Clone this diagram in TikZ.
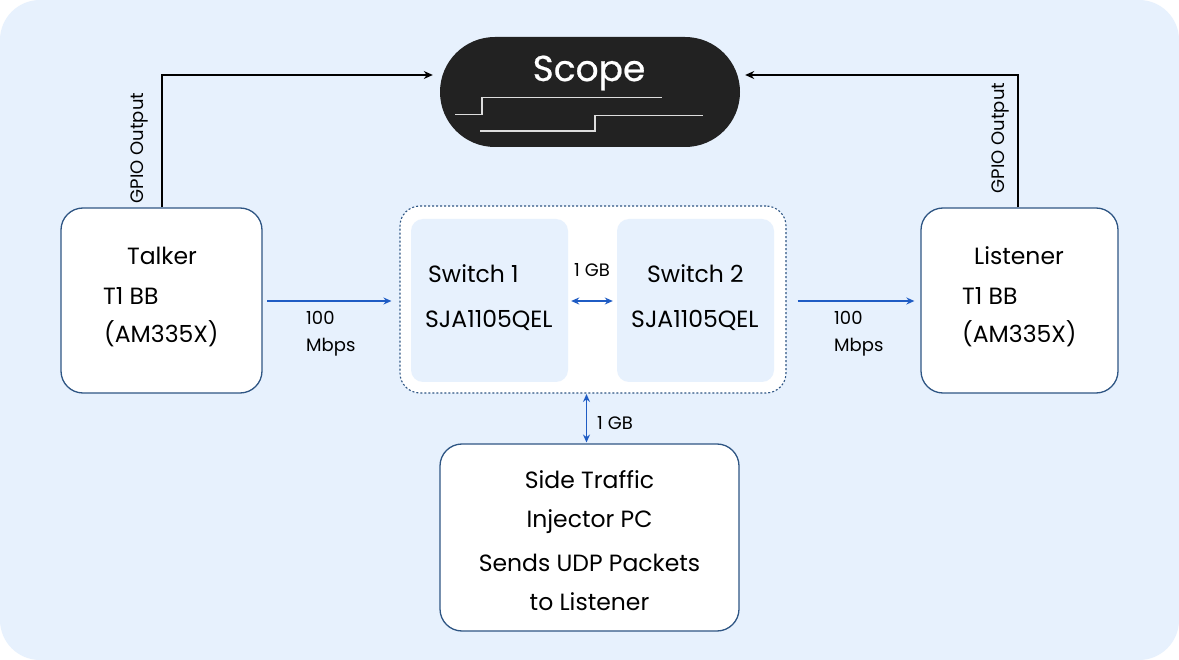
\documentclass[tikz,border=0pt]{standalone}
\usepackage{fontspec}
\setmainfont{Poppins}
\usetikzlibrary{arrows.meta}
\definecolor{bgblue}{HTML}{E7F1FD}
\definecolor{boxedge}{HTML}{2F5684}
\definecolor{arrowblue}{HTML}{1F5CC4}
\definecolor{scopefill}{HTML}{222222}
\definecolor{wave}{HTML}{DDDDDD}
\tikzset{
  devbox/.style={draw=boxedge, line width=1.3pt, fill=white, rounded corners=22pt, inner sep=0pt},
  swbox/.style={fill=bgblue, rounded corners=12pt, inner sep=0pt},
  bigtxt/.style={font=\fontsize{23.5}{28}\selectfont, inner sep=0pt, anchor=base},
  smalltxt/.style={font=\fontsize{18}{21}\selectfont, inner sep=0pt},
  gpio/.style={draw=black, line width=1.3pt, -{Stealth[length=9pt,width=8pt]}},
  blink/.style={draw=arrowblue, line width=1.3pt, -{Stealth[length=8pt,width=7pt]}},
  bilink/.style={draw=arrowblue, line width=1.3pt, {Stealth[length=8pt,width=7pt]}-{Stealth[length=8pt,width=7pt]}},
}
\begin{document}
\begin{tikzpicture}[x=1pt,y=-1pt]
\useasboundingbox (0,0) rectangle (1179,660);
\fill[white] (0,0) rectangle (1179,660);
\fill[bgblue, rounded corners=40pt] (0,0) rectangle (1179,660);

% Scope
\node[fill=scopefill, rounded corners=54.9pt, minimum width=300pt, minimum height=110pt, inner sep=0pt] (scope) at (590,92) {};
\node[font=\fontsize{36}{40}\selectfont, text=white, inner sep=0pt, anchor=base] (scopetxt) at (589,81) {\addfontfeatures{FakeBold=0.6}Scope};
\draw[wave, line width=1.4pt] (455,114.5) -- (482,114.5) -- (482,97.5) -- (662,97.5);
\draw[wave, line width=1.4pt] (480,131) -- (595,131) -- (595,115.5) -- (703,115.5);

% Talker
\node[devbox, minimum width=201pt, minimum height=185pt] (talker) at (161.5,300.5) {};
\node[bigtxt] (talker1) at (162,265) {Talker};
\node[bigtxt, anchor=base west] (talker2) at (103,305) {T1 BB};
\node[bigtxt, anchor=base west] (talker3) at (104,343) {(AM335X)};

% Listener
\node[devbox, minimum width=197pt, minimum height=185pt] (listener) at (1019.5,300.5) {};
\node[bigtxt] (listener1) at (1019,265) {Listener};
\node[bigtxt, anchor=base west] (listener2) at (962,305) {T1 BB};
\node[bigtxt, anchor=base west] (listener3) at (962,343) {(AM335X)};

% Switch group
\node[fill=white, draw=boxedge, line width=1.1pt, dash pattern=on 2pt off 2pt, rounded corners=20pt, minimum width=386pt, minimum height=187pt, inner sep=0pt] (group) at (593,299.5) {};
\node[swbox, minimum width=157pt, minimum height=163pt] (sw1) at (489.5,300.5) {};
\node[swbox, minimum width=157pt, minimum height=163pt] (sw2) at (695.5,300.5) {};
\node[bigtxt, anchor=base west] (sw1a) at (428,283) {Switch 1};
\node[bigtxt, anchor=base west] (sw1b) at (425,328) {SJA1105QEL};
\node[bigtxt, anchor=base west] (sw2a) at (647,283) {Switch 2};
\node[bigtxt, anchor=base west] (sw2b) at (631,328) {SJA1105QEL};

% Side traffic
\node[devbox, minimum width=299pt, minimum height=187pt] (side) at (589.5,537.5) {};
\node[bigtxt] (side1) at (589.5,488) {Side Traffic};
\node[bigtxt] (side2) at (589.5,527) {Injector PC};
\node[bigtxt] (side3) at (589.5,571) {Sends UDP Packets};
\node[bigtxt] (side4) at (589.5,610) {to Listener};

% GPIO connectors
\coordinate (tkup) at (162,75);
\coordinate (lsup) at (1018,75);
\draw[gpio] (talker.north -| tkup) -- (tkup) -- ([xshift=-7pt]scope.west |- tkup);
\draw[gpio] (listener.north -| lsup) -- (lsup) -- ([xshift=5pt]scope.east |- lsup);
\node[smalltxt, rotate=90] (gpio1) at (139,148) {GPIO Output};
\node[smalltxt, rotate=90] (gpio2) at (1000,138) {GPIO Output};

% Data links
\coordinate (tk) at (267,301);
\draw[blink] (tk) -- ([xshift=-8pt]group.west |- tk);
\draw[blink] ([xshift=11pt]group.east |- tk) -- ([xshift=-6pt]listener.west |- tk);
\draw[bilink] ([xshift=3pt]sw1.east |- tk) -- ([xshift=-4pt]sw2.west |- tk);
\draw[bilink] (586.5,394) -- (586.5,442.5);

% labels
\node[smalltxt, anchor=base west] (l100a) at (306,325) {100};
\node[smalltxt, anchor=base west] (l100b) at (306,352) {Mbps};
\node[smalltxt, anchor=base west] (r100a) at (834,325) {100};
\node[smalltxt, anchor=base west] (r100b) at (834,352) {Mbps};
\node[smalltxt, anchor=base] (gb1) at (592,277) {1 GB};
\node[smalltxt, anchor=base west] (gb2) at (597,430) {1 GB};
\end{tikzpicture}
\end{document}
